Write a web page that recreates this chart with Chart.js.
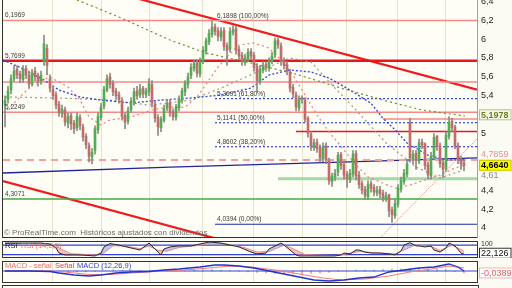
<!DOCTYPE html>
<html>
<head>
<meta charset="utf-8">
<script src="https://cdn.jsdelivr.net/npm/chart.js@4.4.1/dist/chart.umd.min.js"></script>
<style>
  html, body { margin: 0; padding: 0; background: #fbfbf4; }
  #wrap { position: relative; width: 512px; height: 288px; overflow: hidden; }
  #wrap canvas { position: absolute; left: 0; }
  #stub { position: absolute; left: 2px; top: 285px; width: 475px; height: 6px; border: 1px solid #333; }
</style>
</head>
<body>
<div id="wrap">
  <canvas id="main" width="512" height="239" style="top:0"></canvas>
  <canvas id="rsi" width="512" height="17" style="top:241px"></canvas>
  <canvas id="macd" width="512" height="22" style="top:261px"></canvas>
  <div id="stub"></div>
</div>
<script>
// candles, one per session (x = session index)
const opens = [5.30,5.36,5.46,5.58,5.68,5.63,5.57,5.69,5.62,5.53,
  5.66,5.61,5.55,5.76,5.90,5.58,5.47,5.41,5.31,5.21,
  5.25,5.11,5.19,5.11,5.06,5.17,5.07,4.97,4.87,4.75,
  4.82,5.04,5.17,5.29,5.46,5.60,5.53,5.45,5.41,5.35,
  5.19,5.13,5.25,5.33,5.45,5.41,5.48,5.41,5.44,5.52,
  5.31,5.17,5.06,5.14,5.27,5.33,5.23,5.17,5.27,5.35,
  5.44,5.52,5.61,5.69,5.75,5.63,5.77,5.87,5.97,6.05,
  6.13,6.09,6.02,6.09,5.93,5.89,6.07,6.11,5.89,5.83,
  5.75,5.79,5.87,5.83,5.71,5.55,5.67,5.73,5.69,5.76,
  5.83,5.99,5.93,5.77,5.73,5.65,5.49,5.41,5.27,5.38,
  5.35,5.16,4.99,4.85,4.91,4.85,4.73,4.87,4.71,4.49,
  4.54,4.59,4.78,4.67,4.57,4.51,4.57,4.79,4.56,4.47,
  4.41,4.33,4.47,4.43,4.37,4.41,4.37,4.31,4.35,4.19,
  4.13,4.25,4.41,4.49,4.57,5.12,4.73,4.79,4.71,4.91,
  4.89,4.67,4.55,4.75,4.97,4.87,4.69,4.63,4.97,5.13,
  5.07,4.87,4.73,4.69];
const highs = [5.40,5.50,5.62,5.72,5.72,5.66,5.72,5.72,5.66,5.68,
  5.70,5.64,5.66,6.04,5.94,5.62,5.50,5.44,5.34,5.30,
  5.28,5.22,5.22,5.14,5.22,5.20,5.10,5.00,4.90,4.84,
  5.08,5.22,5.32,5.50,5.62,5.64,5.56,5.48,5.44,5.38,
  5.22,5.28,5.38,5.48,5.50,5.52,5.50,5.48,5.58,5.56,
  5.34,5.20,5.18,5.30,5.36,5.36,5.26,5.31,5.40,5.48,
  5.56,5.64,5.74,5.78,5.78,5.80,5.92,6.01,6.10,6.19,
  6.16,6.12,6.12,6.12,5.96,6.12,6.14,6.14,5.92,5.86,
  5.84,5.90,5.90,5.86,5.74,5.72,5.76,5.76,5.80,5.86,
  6.01,6.01,5.96,5.80,5.76,5.68,5.52,5.44,5.40,5.40,
  5.38,5.18,5.02,4.94,4.94,4.88,4.90,4.90,4.74,4.58,
  4.62,4.80,4.80,4.70,4.60,4.62,4.82,4.82,4.60,4.50,
  4.44,4.50,4.50,4.46,4.44,4.44,4.40,4.38,4.36,4.22,
  4.30,4.46,4.54,4.62,4.72,5.16,4.82,4.82,4.94,4.94,
  4.90,4.70,4.80,5.00,4.98,4.90,4.72,5.02,5.18,5.16,
  5.09,4.90,4.76,4.72];
const lows = [5.07,5.32,5.42,5.55,5.58,5.54,5.54,5.58,5.48,5.50,
  5.56,5.50,5.52,5.72,5.62,5.44,5.36,5.26,5.18,5.17,
  5.08,5.06,5.04,5.00,5.03,5.04,4.92,4.84,4.70,4.68,
  4.78,5.00,5.14,5.26,5.44,5.48,5.40,5.36,5.32,5.14,
  5.05,5.10,5.22,5.30,5.36,5.38,5.38,5.38,5.40,5.28,
  5.12,4.98,5.02,5.12,5.24,5.18,5.14,5.14,5.24,5.32,
  5.40,5.48,5.58,5.66,5.60,5.60,5.74,5.84,5.94,6.02,
  6.04,5.98,5.98,5.88,5.72,5.86,6.04,5.84,5.78,5.72,
  5.72,5.76,5.78,5.66,5.44,5.52,5.64,5.66,5.66,5.74,
  5.80,5.90,5.72,5.68,5.62,5.44,5.38,5.24,5.24,5.32,
  5.12,4.96,4.82,4.82,4.80,4.70,4.70,4.68,4.46,4.44,
  4.50,4.55,4.62,4.52,4.43,4.48,4.54,4.51,4.42,4.36,
  4.30,4.30,4.38,4.34,4.34,4.32,4.28,4.28,4.12,4.06,
  4.10,4.22,4.38,4.46,4.54,4.70,4.68,4.62,4.68,4.84,
  4.62,4.52,4.52,4.72,4.82,4.64,4.53,4.60,4.94,5.02,
  4.84,4.68,4.62,4.61];
const closes = [5.35,5.45,5.58,5.66,5.62,5.58,5.68,5.62,5.52,5.64,
  5.60,5.55,5.62,5.95,5.72,5.48,5.40,5.30,5.22,5.26,
  5.12,5.18,5.10,5.05,5.18,5.08,4.96,4.88,4.76,4.80,
  5.05,5.18,5.28,5.47,5.58,5.52,5.44,5.40,5.36,5.18,
  5.12,5.24,5.34,5.44,5.40,5.47,5.42,5.45,5.53,5.32,
  5.16,5.07,5.15,5.26,5.32,5.22,5.18,5.28,5.36,5.45,
  5.53,5.60,5.70,5.74,5.64,5.76,5.88,5.98,6.06,6.12,
  6.08,6.03,6.08,5.92,5.88,6.08,6.10,5.88,5.82,5.76,
  5.80,5.86,5.82,5.70,5.56,5.68,5.72,5.70,5.77,5.82,
  5.98,5.94,5.76,5.72,5.66,5.48,5.42,5.28,5.37,5.36,
  5.15,5.00,4.86,4.90,4.84,4.74,4.86,4.72,4.50,4.55,
  4.58,4.77,4.66,4.56,4.52,4.58,4.78,4.55,4.46,4.40,
  4.34,4.46,4.42,4.38,4.40,4.36,4.32,4.34,4.18,4.14,
  4.26,4.42,4.50,4.58,4.68,4.74,4.78,4.72,4.90,4.88,
  4.66,4.56,4.76,4.96,4.86,4.68,4.62,4.98,5.12,5.06,
  4.86,4.72,4.68,4.66];

// moving averages: [session, value]
const maLong = [[24,6.413],[38,6.233],[55,5.989],[67,5.852],[82,5.746],[98,5.619],[112,5.481],[126,5.354],[139,5.249],[153.3,5.185]];
const maMid = [[-0.67,5.778],[5,5.70],[13,5.566],[18,5.46],[25,5.386],[32,5.354],[42,5.323],[52,5.354],[62,5.376],[72,5.407],[82,5.481],[88,5.619],[95,5.672],[102,5.651],[108,5.587],[115,5.46],[122,5.32],[126,5.16],[130,5.04],[134,4.90],[141,4.77],[147,4.72],[153.3,4.72]];
const maGray = [[0,5.386],[18,5.376],[35,5.354],[48,5.30],[62,5.354],[72,5.481],[84,5.651],[95,5.799],[102,5.757],[110,5.481],[117,5.249],[127,4.90],[137,4.645],[145,4.529],[151,4.593],[153.3,4.614]];
const maShort = [[0.7,5.249],[5,5.386],[9,5.513],[15,5.598],[21,5.492],[25,5.354],[28,5.175],[32,5.09],[35,5.143],[42,5.175],[49,5.249],[55,5.28],[60,5.28],[64,5.386],[68,5.566],[71,5.704],[74,5.81],[78,5.937],[83,5.958],[88,5.905],[92,5.778],[96,5.619],[100,5.407],[104,5.196],[108,5.016],[113,4.825],[117,4.667],[121,4.54],[125,4.487],[130,4.423],[135,4.455],[140,4.508],[145,4.561],[150,4.635],[153.3,4.667]];

// drawn lines: horizontal levels, fibonacci retracement, trend lines
const levelValues = [6.1969, 5.7699, 5.545, 5.2249, 5.153, 5.02, 4.72, 4.52, 4.3071];
const levelFrom = [-0.67, -0.67, -0.67, -0.67, 126, 97, -0.67, 91, -0.67];
const levelTags = [6.1969, 5.7699, 5.2249, 4.3071];
const fibValues = [6.1898, 5.3691, 5.1141, 4.8602, 4.0394];
const fibTags = ['6,1898 (100,00%)', '5,3691 (61,80%)', '5,1141 (50,00%)', '4,8602 (38,20%)', '4,0394 (0,00%)'];
const fibFrom = 70;
const trendBlue = [[-0.67,4.582],[55,4.645],[112,4.698],[157.33,4.741]];
const trendRedTop = [[20,6.635],[157.33,5.464]];
const trendRedLow = [[-0.67,4.497],[75,3.848]];
const trendRise = [[122,3.797],[157.33,4.942]];

// price axis
const priceTicks = [4, 4.2, 4.4, 5, 5.4, 5.6, 5.8, 6, 6.2, 6.4];
const lastTags = [5.1978, 4.7859, 4.6640, 4.61];

// RSI panel
const rsiGuides = [76, 20];
const rsiLine = [[0,88],[5,88],[12,88],[15,82],[17,59],[18,29],[20,18],[25,18],[30,12],[32,29],[33,65],[35,85],[38,76],[42,59],[45,47],[48,88],[50,53],[52,18],[53,53],[55,65],[58,71],[62,71],[65,82],[68,94],[72,88],[75,76],[78,65],[82,35],[84,24],[87,29],[88,53],[92,88],[93,76],[95,47],[97,18],[98,12],[105,12],[110,12],[112,18],[113,29],[115,24],[117,47],[118,47],[120,35],[122,29],[125,29],[128,24],[130,18],[132,41],[133,76],[135,90],[137,71],[138,71],[140,65],[142,71],[143,47],[145,35],[147,59],[148,88],[150,71],[152,29],[153,22]];
const rsiSignal = [[0,85],[12,86],[16,80],[19,50],[22,25],[30,18],[33,30],[36,72],[40,70],[45,55],[48,70],[51,45],[54,40],[58,62],[65,75],[69,88],[75,80],[80,60],[84,35],[88,38],[93,75],[96,55],[100,20],[110,15],[114,24],[118,38],[122,33],[130,24],[134,55],[137,78],[142,68],[145,45],[149,75],[152,50],[153,40]];

// MACD panel
const macdLine = [[0,0],[8,0],[15,-0.01],[18,-0.04],[23,-0.08],[28,-0.10],[32,-0.08],[37,-0.04],[42,-0.02],[48,-0.01],[53,0.02],[58,0.04],[65,0.08],[70,0.12],[73,0.12],[78,0.10],[83,0.06],[88,0],[93,-0.06],[98,-0.12],[103,-0.18],[108,-0.20],[113,-0.18],[118,-0.14],[123,-0.12],[128,-0.02],[133,0.02],[138,0.06],[143,0.08],[148,0.14],[151,0.08],[153,0.0]];
const macdSignal = [[0,0.01],[15,0],[20,-0.02],[28,-0.07],[35,-0.07],[42,-0.04],[50,-0.01],[60,0.02],[68,0.06],[75,0.10],[82,0.08],[90,0.02],[98,-0.06],[106,-0.14],[112,-0.18],[120,-0.16],[128,-0.10],[135,-0.02],[142,0.04],[148,0.10],[153,0.06]];
const histIdx = [0,3,6,9,12,15,18,21,24,27,30,33,36,39,42,45,48,51,54,57,60,63,66,69,72,75,78,81,84,87,90,93,96,99,102,105,108,111,114,117,120,123,126,129,132,135,138,141,144,147,150,153];
const histValues = [0,0,0,-0.005,-0.01,-0.01,-0.02,-0.03,-0.02,-0.02,-0.01,0,0.02,0.02,0.02,0.01,0,0.01,0.01,0.02,0.02,0.02,0.03,0.03,0.02,0.01,-0.01,-0.02,-0.03,-0.04,-0.05,-0.06,-0.06,-0.06,-0.05,-0.04,-0.03,-0.01,0,0.02,0.02,0.02,0.03,0.04,0.04,0.05,0.05,0.04,0.04,0.03,-0.01,-0.04];

// vertical grid positions (sessions at month starts)
const gridIdx = [15.7, 32.3, 48.3, 65.7, 82.7, 99, 113.7, 130.7, 146.7];

const xMin = -0.67, xMax = 157.33;
const FONT = '"Liberation Sans", Arial, sans-serif';
const fmt = v => String(v).replace('.', ',');
const pts = arr => arr.map(p => ({ x: p[0], y: p[1] }));
const seg = (x0, x1, v) => [{ x: x0, y: v }, { x: x1, y: v }];

function xAxis() {
    return {
        type: 'linear', min: xMin, max: xMax, offset: false,
        grid: { color: '#e6e2cc', drawTicks: false, offset: false },
        border: { display: false },
        ticks: { display: false },
        afterBuildTicks: s => { s.ticks = gridIdx.map(v => ({ value: v })); },
        afterFit: s => { s.height = 0; }
    };
}

function yAxis(min, max, extra) {
    return Object.assign({
        position: 'right', min: min, max: max,
        grid: { display: false, drawTicks: false },
        border: { display: false },
        ticks: { display: false },
        afterFit: s => { s.width = 35; s.paddingTop = 0; s.paddingBottom = 0; }
    }, extra || {});
}

function line(data, color, width, dash, order) {
    return {
        type: 'line', data: data, borderColor: color, borderWidth: width,
        borderDash: dash || [], pointRadius: 0, fill: false, tension: 0,
        order: order == null ? 2 : order
    };
}

function tag(ctx, text, y, fg, bg, border, bold) {
    ctx.save();
    ctx.font = (bold ? 'bold ' : '') + '9px ' + FONT;
    const w = Math.max(31, ctx.measureText(text).width + 5);
    if (bg) { ctx.fillStyle = bg; ctx.fillRect(479, y - 5.5, w, 11); }
    if (border) { ctx.strokeStyle = border; ctx.lineWidth = 1; ctx.strokeRect(479.5, y - 5, w - 1, 10); }
    ctx.fillStyle = fg;
    ctx.textBaseline = 'middle';
    ctx.fillText(text, 481, y + 0.5);
    ctx.restore();
}

const framePlugin = {
    id: 'frame',
    beforeDraw(chart) {
        const { ctx, chartArea: a } = chart;
        ctx.save();
        ctx.fillStyle = '#fefef7';
        ctx.fillRect(a.left, a.top, a.right - a.left, a.bottom - a.top);
        ctx.restore();
    },
    afterDraw(chart, args, opts) {
        const { ctx, chartArea: a } = chart;
        ctx.save();
        ctx.strokeStyle = '#333';
        ctx.lineWidth = 1;
        ctx.beginPath();
        if (opts.top) { ctx.moveTo(a.left - 0.5, a.top + 0.5); ctx.lineTo(a.right + 0.5, a.top + 0.5); }
        ctx.moveTo(a.left - 0.5, a.top); ctx.lineTo(a.left - 0.5, a.bottom);
        ctx.moveTo(a.left - 0.5, a.bottom - 0.5); ctx.lineTo(a.right + 0.5, a.bottom - 0.5);
        ctx.stroke();
        ctx.strokeStyle = opts.right || '#333';
        ctx.beginPath();
        ctx.moveTo(a.right + 0.5, a.top); ctx.lineTo(a.right + 0.5, a.bottom);
        ctx.stroke();
        ctx.restore();
    }
};

// ---------- main price panel ----------
const levelStyles = [
    ['#f28a8a', 1.5], ['#e8161b', 2.5], ['#f28a8a', 1.5], ['#f28a8a', 1.5], ['#f28a8a', 1.5],
    ['#e8161b', 1.5], ['#f4a0a0', 2, [7, 5]], ['#a3d9a3', 3], ['#45a845', 1.5]
];

const mainSets = [];
mainSets.push({
    type: 'bar', label: 'wick', order: 0, grouped: false, barThickness: 1,
    data: closes.map((c, i) => ({ x: i, y: [lows[i], highs[i]] })),
    backgroundColor: '#8a8a80'
});
mainSets.push({
    type: 'bar', label: 'body', order: -1, grouped: false, barThickness: 2, minBarLength: 1,
    data: closes.map((c, i) => ({ x: i, y: [opens[i], c] })),
    backgroundColor: closes.map((c, i) => c >= opens[i] ? '#4fae4f' : '#c46a6a')
});
levelValues.forEach((v, k) => {
    const st = levelStyles[k];
    mainSets.push(line(seg(levelFrom[k], xMax, v), st[0], st[1], st[2], 3));
});
fibValues.slice(1, 4).forEach(v => mainSets.push(line(seg(fibFrom, xMax, v), '#2b45e0', 1.2, [2, 2], 3)));
mainSets.push(line(seg(fibFrom, xMax, fibValues[4]), '#1c2aa8', 1.2, null, 3));
mainSets.push(line(pts(trendBlue), '#22239a', 1.3, null, 3));
mainSets.push(line(pts(trendRedTop), '#ee1c1c', 2.2, null, 3));
mainSets.push(line(pts(trendRedLow), '#ee1c1c', 2.2, null, 3));
mainSets.push(line(pts(trendRise), '#f09a9a', 1, [2, 1], 3));
mainSets.push(line(pts(maLong), '#6e8a2e', 1.2, [2, 3], 1));
mainSets.push(line(pts(maMid), '#2b45e0', 1.3, [2, 2], 1));
mainSets.push(line(pts(maGray), '#9a9a90', 1.2, [2, 3], 1));
mainSets.push(line(pts(maShort), '#f07a7a', 1.2, [2, 3], 1));

const mainText = {
    id: 'mainText',
    afterDraw(chart) {
        const ctx = chart.ctx, y = chart.scales.y, x = chart.scales.x;
        ctx.save();
        ctx.font = '6.5px ' + FONT;
        ctx.fillStyle = '#3a3a3a';
        ctx.textBaseline = 'bottom';
        levelTags.forEach(v => ctx.fillText(fmt(v), 5, y.getPixelForValue(v) - 1.5));
        const fx = x.getPixelForValue(fibFrom) + 2;
        fibValues.forEach((v, k) => ctx.fillText(fibTags[k], fx, y.getPixelForValue(v) - 1.5));
        ctx.font = '8px ' + FONT;
        ctx.fillStyle = '#6a6a6a';
        ctx.fillText('\u00a9 ProRealTime.com  Hist\u00f3ricos ajustados con dividendos', 4, 237);
        ctx.restore();
        tag(ctx, fmt(lastTags[0]), y.getPixelForValue(lastTags[0]), '#6e7f22', '#f6f8ea', '#b9c48a', true);
        tag(ctx, fmt(lastTags[1]), y.getPixelForValue(lastTags[1]), '#ee8a8a', '#fefef7', null, false);
        tag(ctx, '4,6640', y.getPixelForValue(lastTags[2]), '#000', '#ffff00', '#c8c800', true);
        tag(ctx, fmt(lastTags[3]), y.getPixelForValue(lastTags[2]) + 10, '#8a8a8a', null, null, false);
    }
};

new Chart(document.getElementById('main'), {
    type: 'line',
    data: { datasets: mainSets },
    options: {
        responsive: false, animation: false, devicePixelRatio: 1,
        layout: { padding: { left: 3, top: 0, right: 0, bottom: 1 } },
        plugins: { legend: { display: false }, tooltip: { enabled: false }, frame: { right: '#a0a0a0' } },
        scales: {
            x: xAxis(),
            y: yAxis(3.894, 6.413, {
                ticks: {
                    display: true, padding: 4, color: '#222', font: { family: FONT, size: 9 },
                    callback: v => fmt(v)
                },
                afterBuildTicks: s => { s.ticks = priceTicks.map(v => ({ value: v })); }
            })
        }
    },
    plugins: [framePlugin, mainText]
});

// ---------- RSI panel ----------
const rsiText = {
    id: 'rsiText',
    afterDraw(chart) {
        const ctx = chart.ctx, y = chart.scales.y;
        ctx.save();
        ctx.font = '7.5px ' + FONT;
        ctx.textBaseline = 'top';
        ctx.fillStyle = '#222';
        ctx.fillText('RSI', 5, 1);
        ctx.fillStyle = '#ec6d6d';
        ctx.fillText('RSI (14,2,5)', 21, 1);
        ctx.fillStyle = '#333';
        ctx.font = '7px ' + FONT;
        ctx.fillText('100', 481, 0);
        ctx.restore();
        tag(ctx, '22,126', y.getPixelForValue(22.126) - 1, '#111', '#fff', '#333', false);
    }
};

new Chart(document.getElementById('rsi'), {
    type: 'line',
    data: {
        datasets: [
            line(pts(rsiSignal), '#f08a8a', 1, null, 2),
            Object.assign(line(pts(rsiLine), '#2a2a2a', 1, null, 1), {
                fill: { target: 0, above: 'rgba(150,150,235,0.55)', below: 'rgba(240,140,140,0.55)' }
            }),
            line(seg(xMin, xMax, rsiGuides[0]), '#3342d6', 1.2, null, 3),
            line(seg(xMin, xMax, rsiGuides[1]), '#3342d6', 1.2, null, 3)
        ]
    },
    options: {
        responsive: false, animation: false, devicePixelRatio: 1,
        layout: { padding: { left: 3, top: 0, right: 0, bottom: 0 } },
        plugins: { legend: { display: false }, tooltip: { enabled: false }, frame: { top: true } },
        scales: { x: xAxis(), y: yAxis(0, 100) }
    },
    plugins: [framePlugin, rsiText]
});

// ---------- MACD panel ----------
const macdText = {
    id: 'macdText',
    afterDraw(chart) {
        const ctx = chart.ctx, y = chart.scales.y;
        ctx.save();
        ctx.font = '7.5px ' + FONT;
        ctx.textBaseline = 'top';
        ctx.fillStyle = '#ec6d6d';
        ctx.fillText('MACD - se\u00f1al', 5, 1.5);
        ctx.fillStyle = '#e23a3a';
        ctx.fillText('Se\u00f1al', 55, 1.5);
        ctx.fillStyle = '#2b3fd0';
        ctx.fillText('MACD (12,26,9)', 77, 1.5);
        ctx.restore();
        tag(ctx, '-0,0389', y.getPixelForValue(-0.0389), '#e85a5a', '#fff', '#f0b0b0', false);
    }
};

new Chart(document.getElementById('macd'), {
    type: 'line',
    data: {
        datasets: [
            {
                type: 'bar', order: 4, grouped: false, barThickness: 1,
                data: histIdx.map((v, k) => ({ x: v, y: histValues[k] })),
                backgroundColor: histValues.map(v => v >= 0 ? '#8ccf8c' : '#f29a9a')
            },
            line(seg(xMin, xMax, 0), '#3342d6', 1, null, 3),
            line(pts(macdSignal), '#f08080', 1.2, null, 2),
            line(pts(macdLine), '#2233cc', 1.3, null, 1)
        ]
    },
    options: {
        responsive: false, animation: false, devicePixelRatio: 1,
        layout: { padding: { left: 3, top: 0, right: 0, bottom: 0 } },
        plugins: { legend: { display: false }, tooltip: { enabled: false }, frame: { top: true } },
        scales: { x: xAxis(), y: yAxis(-0.24, 0.2) }
    },
    plugins: [framePlugin, macdText]
});
</script>
</body>
</html>
